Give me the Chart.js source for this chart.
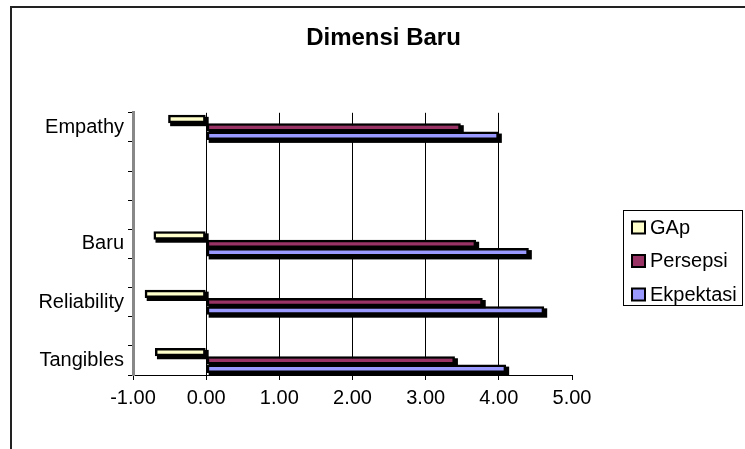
<!DOCTYPE html>
<html>
<head>
<meta charset="utf-8">
<script src="https://cdn.jsdelivr.net/npm/chart.js@4/dist/chart.umd.min.js"></script>
<style>
  html, body { margin: 0; padding: 0; background: #fff; }
  #wrap { width: 745px; height: 449px; position: relative; }
</style>
</head>
<body>
<div id="wrap"><canvas id="chart"></canvas></div>
<script>
// kategori dari atas ke bawah (slot kosong ikut dihitung seperti di grafik asli)
const categories = ['Empathy', '', '', '', 'Baru', '', 'Reliability', '', 'Tangibles'];
const gap       = [-0.52, null, null, null, -0.72, null, -0.84, null, -0.70];
const persepsi  = [3.48, null, null, null, 3.69, null, 3.78, null, 3.40];
const ekpektasi = [4.00, null, null, null, 4.41, null, 4.62, null, 4.10];
const xTicks = [-1, 0, 1, 2, 3, 4, 5];

const seriesNames = ['GAp', 'Persepsi', 'Ekpektasi'];
const seriesColors = ['#FFFFCC', '#993366', '#9999FF'];

Chart.defaults.font.family = '"Liberation Sans", Arial, sans-serif';
Chart.defaults.color = '#000';

// bingkai luar + bayangan batang + legenda berkotak
const excelLook = {
    id: 'excelLook',
    beforeDraw(chart) {
        const ctx = chart.ctx;
        ctx.save();
        ctx.strokeStyle = '#222';
        ctx.lineWidth = 2;
        ctx.beginPath();
        ctx.moveTo(11, 449);
        ctx.lineTo(11, 7);
        ctx.lineTo(745, 7);
        ctx.stroke();
        ctx.restore();
    },
    beforeDatasetsDraw(chart) {
        // bayangan hitam di kanan-bawah tiap batang (efek 3D ala Excel)
        const ctx = chart.ctx;
        ctx.save();
        ctx.fillStyle = '#000';
        chart.data.datasets.forEach((ds, di) => {
            const meta = chart.getDatasetMeta(di);
            meta.data.forEach((bar, i) => {
                if (ds.data[i] === null) return;
                const p = bar.getProps(['x', 'y', 'base', 'height'], true);
                const left = Math.min(p.x, p.base);
                const w = Math.abs(p.x - p.base);
                ctx.fillRect(left + 2, p.y - p.height / 2 + 2, w + 1, p.height + 1);
            });
        });
        ctx.restore();
    },
    afterDraw(chart) {
        const ctx = chart.ctx;
        ctx.save();
        ctx.strokeStyle = '#000';
        ctx.lineWidth = 1;
        ctx.strokeRect(623.5, 210.5, 119, 95);
        ctx.font = '20px "Liberation Sans", Arial, sans-serif';
        ctx.textBaseline = 'alphabetic';
        chart.data.datasets.forEach((ds, i) => {
            const base = 233.5 + i * 33.5;
            ctx.fillStyle = ds.backgroundColor;
            ctx.fillRect(632, base - 12, 13, 12);
            ctx.lineWidth = 2;
            ctx.strokeRect(632, base - 12, 13, 12);
            ctx.fillStyle = '#000';
            ctx.fillText(ds.label, 650, base);
        });
        ctx.restore();
    }
};

const datasets = [gap, persepsi, ekpektasi].map((values, i) => ({
    label: seriesNames[i],
    data: values,
    backgroundColor: seriesColors[i],
    borderColor: '#000',
    borderWidth: 2.5,
    borderSkipped: false,
    categoryPercentage: 0.86,
    barPercentage: 1.0,
}));

new Chart(document.getElementById('chart'), {
    type: 'bar',
    data: { labels: categories, datasets: datasets },
    options: {
        indexAxis: 'y',
        responsive: true,
        maintainAspectRatio: false,
        animation: false,
        layout: {
            padding: { left: 22, right: 0, top: 0, bottom: 33 }
        },
        plugins: {
            legend: { display: false },
            tooltip: { enabled: false },
            title: {
                display: true,
                text: 'Dimensi Baru',
                color: '#000',
                font: { size: 24, weight: 'bold' },
                padding: { top: 24, bottom: 60 }
            }
        },
        scales: {
            x: {
                min: -1,
                max: 5,
                afterBuildTicks(scale) {
                    scale.ticks = xTicks.map(v => ({ value: v }));
                },
                afterFit(scale) {
                    // ruang kanan untuk legenda
                    scale.paddingRight = 173;
                },
                ticks: {
                    font: { size: 20 },
                    padding: 6,
                    maxRotation: 0,
                    callback: v => Number(v).toFixed(2)
                },
                grid: {
                    color: c => (c.tick && c.tick.value >= 0 && c.tick.value <= 4) ? '#000' : 'rgba(0,0,0,0)',
                    tickColor: '#000',
                    tickLength: 5,
                    drawTicks: true
                },
                border: { color: '#000', width: 1 }
            },
            y: {
                afterFit(scale) { scale.width = 111; },
                ticks: {
                    font: { size: 20 },
                    padding: 4,
                    autoSkip: false
                },
                grid: {
                    offset: true,
                    drawOnChartArea: false,
                    color: '#000',
                    tickLength: 5
                },
                border: { color: '#888', width: 3 }
            }
        }
    },
    plugins: [excelLook]
});
</script>
</body>
</html>
